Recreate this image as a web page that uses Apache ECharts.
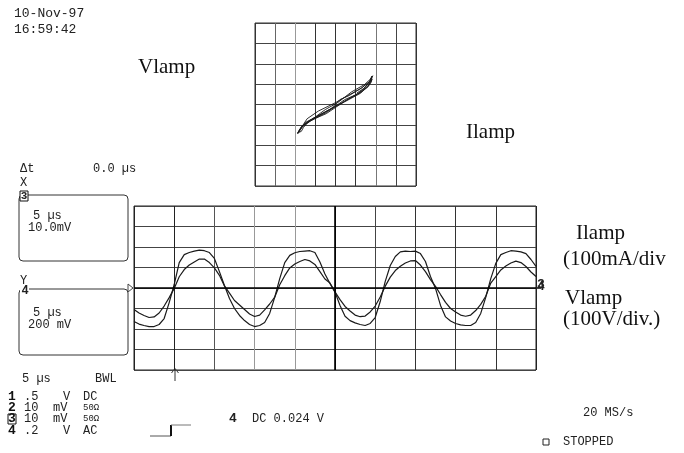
<!DOCTYPE html>
<html>
<head>
<meta charset="utf-8">
<script src="https://cdn.jsdelivr.net/npm/echarts@6/dist/echarts.min.js"></script>
<style>
html,body{margin:0;padding:0;background:#fff;}
#chart{width:684px;height:453px;}
</style>
</head>
<body>
<div id="chart"></div>
<script>
// Time (µs) of each acquired sample, 5 µs/div, 10 divisions
const timeUs = [0,0.625,1.25,1.875,2.5,3.125,3.75,4.375,5,5.625,6.25,6.875,7.5,8.125,8.75,9.375,
  10,10.625,11.25,11.875,12.5,13.125,13.75,14.375,15,15.625,16.25,16.875,17.5,18.125,18.75,19.375,
  20,20.625,21.25,21.875,22.5,23.125,23.75,24.375,25,25.625,26.25,26.875,27.5,28.125,28.75,29.375,
  30,30.625,31.25,31.875,32.5,33.125,33.75,34.375,35,35.625,36.25,36.875,37.5,38.125,38.75,39.375,
  40,40.625,41.25,41.875,42.5,43.125,43.75,44.375,45,45.625,46.25,46.875,47.5,48.125,48.75,49.375,50];

// Trace A (larger, trapezoid-like), in divisions
const traceA = [-1.63,-1.76,-1.83,-1.88,-1.88,-1.78,-1.49,-0.71,0.17,1.24,
  1.63,1.73,1.80,1.85,1.82,1.73,1.44,0.80,0.12,-0.51,
  -1.00,-1.34,-1.59,-1.78,-1.88,-1.83,-1.68,-1.24,-0.46,0.46,
  1.24,1.59,1.72,1.78,1.80,1.82,1.73,1.27,0.68,0.22,
  -0.20,-0.85,-1.38,-1.59,-1.70,-1.78,-1.83,-1.73,-1.44,-0.66,
  0.32,1.10,1.54,1.76,1.80,1.78,1.80,1.68,1.29,0.56,
  -0.02,-0.85,-1.41,-1.61,-1.73,-1.80,-1.83,-1.83,-1.68,-1.24,
  -0.46,0.46,1.20,1.63,1.73,1.82,1.80,1.76,1.68,1.39,1.06];

// Trace B (smaller, sinusoid-like), in divisions
const traceB = [-1.05,-1.22,-1.34,-1.44,-1.41,-1.22,-0.88,-0.47,-0.02,0.55,
  0.90,1.12,1.27,1.41,1.41,1.24,0.98,0.62,0.10,-0.25,
  -0.61,-0.83,-1.05,-1.27,-1.39,-1.32,-1.07,-0.78,-0.45,0.16,
  0.60,0.98,1.17,1.29,1.39,1.32,1.15,0.80,0.44,0.24,
  -0.19,-0.57,-0.90,-1.12,-1.32,-1.40,-1.37,-1.17,-0.88,-0.44,
  0.09,0.53,0.85,1.06,1.22,1.32,1.34,1.12,0.80,0.41,
  0.08,-0.32,-0.70,-1.00,-1.17,-1.32,-1.38,-1.32,-1.10,-0.80,
  -0.40,0.24,0.56,0.88,1.07,1.22,1.31,1.24,1.05,0.78,0.56];

// Bottom-left channel settings
const chNumbers = ['1','2','3','4'];
const chScales  = ['.5','10','10','.2'];
const chUnits   = ['V','mV','mV','V'];
const chCoupling = ['DC','50Ω','50Ω','AC'];

const mainSeriesA = timeUs.map((t,i)=>[t, traceA[i]]);
const mainSeriesB = timeUs.map((t,i)=>[t, traceB[i]]);
const xyData = traceA.map((a,i)=>[a, traceB[i]]);

const MONO = '"Liberation Mono", "DejaVu Sans Mono", monospace';
const SERIF = '"Liberation Serif", "DejaVu Serif", serif';
const INK = '#222';

function txt(x, y, text, size, opts) {
  opts = opts || {};
  return {
    type: 'text', silent: true,
    style: {
      x: x, y: y, text: text,
      font: (opts.weight || 'normal') + ' ' + size + 'px ' + (opts.family || MONO),
      fill: opts.fill || INK,
      align: opts.align || 'left',
      verticalAlign: 'middle'
    }
  };
}

const graphics = [
  txt(14, 14, '10-Nov-97', 13),
  txt(14, 30, '16:59:42', 13),
  txt(138, 67, 'Vlamp', 21, {family: SERIF, fill: '#111'}),
  txt(466, 132, 'Ilamp', 21, {family: SERIF, fill: '#111'}),
  txt(576, 233, 'Ilamp', 21, {family: SERIF, fill: '#111'}),
  txt(563, 259, '(100mA/div', 21, {family: SERIF, fill: '#111'}),
  txt(565, 298, 'Vlamp', 21, {family: SERIF, fill: '#111'}),
  txt(563, 319, '(100V/div.)', 21, {family: SERIF, fill: '#111'}),

  txt(20, 169, 'Δt', 12),
  txt(93, 169, '0.0 µs', 12),
  txt(20, 183, 'X', 12),
  {type:'rect', silent:true, shape:{x:19, y:195, width:109, height:66, r:4}, style:{fill:'none', stroke:'#333', lineWidth:1}},
  {type:'rect', silent:true, shape:{x:20, y:191, width:8, height:10}, style:{fill:'#fff', stroke:'#111', lineWidth:1}},
  txt(24, 196, '3', 11, {weight:'bold', align:'center'}),
  txt(33, 216, '5 µs', 12),
  txt(28, 228, '10.0mV', 12),

  txt(20, 281, 'Y', 12),
  {type:'rect', silent:true, shape:{x:19, y:289, width:109, height:66, r:4}, style:{fill:'none', stroke:'#333', lineWidth:1}},
  {type:'rect', silent:true, shape:{x:20, y:286, width:9, height:9}, style:{fill:'#fff', stroke:'none'}},
  txt(25, 291, '4', 12, {weight:'bold', align:'center'}),
  txt(33, 313, '5 µs', 12),
  txt(28, 325, '200 mV', 12),

  {type:'polygon', silent:true, shape:{points:[[128,284],[133,288],[128,292]]}, style:{fill:'#fff', stroke:'#444', lineWidth:1}},
  {type:'polyline', silent:true, shape:{points:[[536,288],[541,288]]}, style:{stroke:'#111', lineWidth:1.5}},
  txt(541, 285, '3', 13, {weight:'bold', align:'center'}),
  txt(541, 287, '4', 13, {weight:'bold', align:'center'}),

  {type:'polyline', silent:true, shape:{points:[[175,381],[175,369]]}, style:{stroke:'#333', lineWidth:1}},
  {type:'polyline', silent:true, shape:{points:[[171.5,373],[175,368.5],[178.5,373]]}, style:{stroke:'#333', lineWidth:1, fill:'none'}},

  txt(22, 379, '5 µs', 12),
  txt(95, 379, 'BWL', 12),

  {type:'rect', silent:true, shape:{x:8, y:414, width:8, height:10}, style:{fill:'none', stroke:'#111', lineWidth:1}},

  {type:'polyline', silent:true, shape:{points:[[150,436],[171,436]]}, style:{stroke:'#555', lineWidth:1}},
  {type:'polyline', silent:true, shape:{points:[[171,436],[171,425]]}, style:{stroke:'#111', lineWidth:2}},
  {type:'polyline', silent:true, shape:{points:[[171,425],[191,425]]}, style:{stroke:'#777', lineWidth:1}},
  txt(233, 419, '4', 13, {weight:'bold', align:'center'}),
  txt(252, 419, 'DC 0.024 V', 12),

  txt(583, 413, '20 MS/s', 12),
  {type:'rect', silent:true, shape:{x:543, y:439, width:6, height:6}, style:{fill:'none', stroke:'#222', lineWidth:1}},
  txt(563, 442, 'STOPPED', 12)
];

const rowY = [397, 408, 419, 431];
chNumbers.forEach((n, i) => {
  graphics.push(txt(12, rowY[i], n, 13, {weight:'bold', align:'center', fill:'#111'}));
  graphics.push(txt(24, rowY[i], chScales[i], 12));
  graphics.push(txt(chUnits[i] === 'V' ? 63 : 53, rowY[i], chUnits[i], 12));
  graphics.push(txt(83, rowY[i], chCoupling[i], chCoupling[i].length > 2 ? 9 : 12));
});

const chart = echarts.init(document.getElementById('chart'), null, {renderer: 'canvas'});
const hidden = {axisLabel:{show:false}, axisTick:{show:false}, axisLine:{show:false}};

chart.setOption({
  backgroundColor: '#fff',
  animation: false,
  grid: [
    {left:134, top:206, width:402, height:164, show:true, borderColor:'#222', borderWidth:1, backgroundColor:'transparent'},
    {left:255, top:23, width:161, height:163, show:true, borderColor:'#333', borderWidth:1, backgroundColor:'transparent'}
  ],
  xAxis: [
    Object.assign({type:'value', gridIndex:0, min:0, max:50, interval:5,
      splitLine:{show:true, lineStyle:{width:1, color:['#222','#222','#555','#999','#999','#111','#444','#333','#333','#333','#222']}}}, hidden),
    Object.assign({type:'value', gridIndex:1, min:-4, max:4, interval:1,
      splitLine:{show:true, lineStyle:{width:1, color:['#333','#666','#999','#333','#333','#333','#777','#444','#333']}}}, hidden)
  ],
  yAxis: [
    Object.assign({type:'value', gridIndex:0, min:-4, max:4, interval:1,
      splitLine:{show:true, lineStyle:{width:1, color:'#444'}}}, hidden),
    Object.assign({type:'value', gridIndex:1, min:-4, max:4, interval:1,
      splitLine:{show:true, lineStyle:{width:1, color:'#444'}}}, hidden)
  ],
  series: [
    {type:'line', xAxisIndex:0, yAxisIndex:0, data: mainSeriesA, symbol:'none', silent:true,
      lineStyle:{color:'#1a1a1a', width:1.2},
      markLine:{silent:true, symbol:'none', label:{show:false},
        lineStyle:{color:'#000', width:1.6, type:'solid'},
        data:[{yAxis:0},{xAxis:25}]}},
    {type:'line', xAxisIndex:0, yAxisIndex:0, data: mainSeriesB, symbol:'none', silent:true,
      lineStyle:{color:'#1a1a1a', width:1.2}},
    {type:'line', xAxisIndex:1, yAxisIndex:1, data: xyData, symbol:'none', silent:true,
      lineStyle:{color:'#1a1a1a', width:0.9}}
  ],
  graphic: graphics
});
</script>
</body>
</html>
